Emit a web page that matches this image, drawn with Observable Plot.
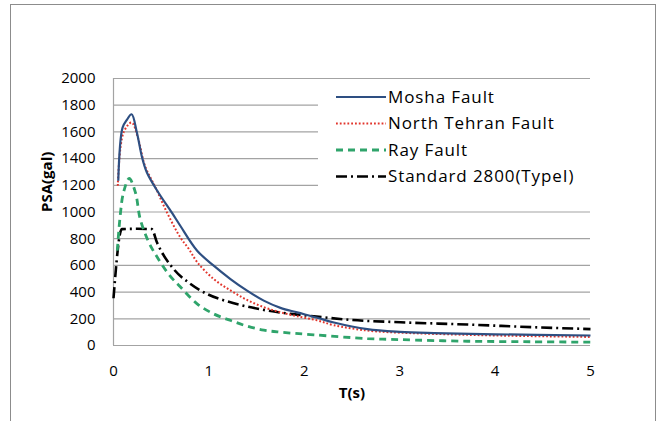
<!DOCTYPE html>
<html>
<head>
<meta charset="utf-8">
<script src="https://cdn.jsdelivr.net/npm/d3@7"></script>
<script src="https://cdn.jsdelivr.net/npm/@observablehq/plot@0.6"></script>
<style>
  html, body { margin: 0; padding: 0; background: #fff; overflow: hidden; width: 659px; height: 421px; }
  #wrap { position: relative; width: 659px; height: 421px; }
  #frame { position: absolute; left: 10px; top: 4px; width: 646px; height: 440px; border: 1px solid #8c8c8c; box-sizing: border-box; pointer-events: none; }
  #chart { position: absolute; left: 0; top: 0; }
</style>
</head>
<body>
<div id="wrap"><div id="chart"></div><div id="frame"></div></div>
<script>
// ---- data ----
const seriesNames = ["Mosha Fault", "North Tehran Fault", "Ray Fault", "Standard 2800(TypeI)"];

const moshaT   = [0.05, 0.095, 0.14, 0.19, 0.245, 0.30, 0.35, 0.47, 0.61, 0.70, 0.877, 1.05, 1.226, 1.40, 1.575, 1.75, 1.925, 2.135, 2.31, 2.66, 3.0, 3.36, 4.0, 5.0];
const moshaPSA = [1234, 1632, 1690, 1732, 1595, 1408, 1296, 1146, 997, 897, 710, 598, 498, 411, 336, 282, 248, 208, 172, 122, 102, 93, 84, 75];

const northT   = [0.045, 0.105, 0.19, 0.26, 0.33, 0.44, 0.56, 0.70, 0.79, 0.877, 1.05, 1.23, 1.40, 1.575, 1.75, 1.925, 2.135, 2.31, 2.66, 3.0, 3.36, 4.0, 5.0];
const northPSA = [1196, 1595, 1670, 1545, 1346, 1184, 997, 810, 723, 625, 498, 411, 341, 287, 249, 219, 188, 152, 112, 96, 87, 75, 64];

const rayT   = [0.04, 0.07, 0.105, 0.165, 0.23, 0.28, 0.37, 0.47, 0.59, 0.70, 0.877, 1.05, 1.23, 1.40, 1.575, 1.75, 2.1, 2.66, 3.0, 3.71, 4.4, 5.0];
const rayPSA = [710, 972, 1146, 1251, 1146, 947, 773, 648, 523, 440, 312, 237, 187, 145, 115, 100, 80, 52, 44, 32, 28, 25];

const stdT   = [0, 0.087, 0.25, 0.40, 0.455, 0.63, 0.79, 0.98, 1.19, 1.40, 1.61, 1.855, 2.10, 2.48, 3.01, 3.71, 4.40, 5.0];
const stdPSA = [354, 872, 874, 872, 773, 573, 470, 386, 331, 292, 262, 237, 219, 192, 174, 157, 137, 123];

const xTicks = [0, 1, 2, 3, 4, 5];
const yTicks = [0, 200, 400, 600, 800, 1000, 1200, 1400, 1600, 1800, 2000];

const toRows = (ts, vs, name) => ts.map((t, i) => ({T: t, PSA: vs[i], series: name}));
const mosha = toRows(moshaT, moshaPSA, seriesNames[0]);
const north = toRows(northT, northPSA, seriesNames[1]);
const ray   = toRows(rayT, rayPSA, seriesNames[2]);
const std   = toRows(stdT, stdPSA, seriesNames[3]);

const styles = [
  {stroke: "#2E4F82", strokeWidth: 2.2, dash: null},
  {stroke: "#E2352C", strokeWidth: 2, dash: "1.8,2"},
  {stroke: "#2FA46B", strokeWidth: 2.8, dash: "7,5"},
  {stroke: "#000000", strokeWidth: 2.6, dash: "11,4,2,4"}
];

const font = "'Open Sans', sans-serif";

const lineOpts = (s, curve) => ({x: "T", y: "PSA", stroke: s.stroke, strokeWidth: s.strokeWidth, strokeDasharray: s.dash, strokeLinecap: "butt", curve});

const chart = Plot.plot({
  width: 659,
  height: 421,
  marginLeft: 113,
  marginRight: 69,
  marginTop: 78,
  marginBottom: 76,
  style: {fontFamily: font, fontSize: "15px", color: "#000", background: "transparent"},
  x: {domain: [0, 5], ticks: xTicks, tickFormat: d => String(d), tickSize: 0, tickPadding: 20, label: null},
  y: {domain: [0, 2000], ticks: yTicks, tickFormat: d => String(d), tickSize: 0, tickPadding: 18, label: null},
  marks: [
    Plot.ruleY(yTicks, {stroke: "#a3a3a3", strokeWidth: 1.2}),
    Plot.ruleX([0], {y1: 0, y2: 2000, stroke: "#a3a3a3", strokeWidth: 1.2}),
    Plot.line(std, lineOpts(styles[3], "monotone-x")),
    Plot.line(ray, lineOpts(styles[2], "catmull-rom")),
    Plot.line(north, lineOpts(styles[1], "catmull-rom")),
    Plot.line(mosha, lineOpts(styles[0], "catmull-rom")),
    Plot.text(["T(s)"], {frameAnchor: "bottom", dy: 52, fontWeight: "bold", fontSize: 15, fontFamily: font}),
    Plot.text(["PSA(gal)"], {frameAnchor: "left", dx: -66, rotate: -90, fontWeight: "bold", fontSize: 15, fontFamily: font})
  ]
});

document.getElementById("chart").appendChild(chart);

// ---- legend (inside the plot, top right) ----
const svg = d3.select(chart);
const lg = svg.append("g").attr("text-anchor", "start");
lg.append("rect").attr("x", 318).attr("y", 86).attr("width", 282).attr("height", 108).attr("fill", "#fff");
const rowY = [97, 123.5, 150, 176.5];
seriesNames.forEach((name, i) => {
  const s = styles[i];
  lg.append("line")
    .attr("x1", 336).attr("x2", 386).attr("y1", rowY[i]).attr("y2", rowY[i])
    .attr("stroke", s.stroke).attr("stroke-width", s.strokeWidth)
    .attr("stroke-dasharray", s.dash);
  lg.append("text")
    .attr("x", 388).attr("y", rowY[i]).attr("dy", "0.35em")
    .attr("text-anchor", "start")
    .attr("font-family", font).attr("font-size", 17).attr("letter-spacing", "0.9px")
    .attr("fill", "#000")
    .text(name);
});
</script>
</body>
</html>
